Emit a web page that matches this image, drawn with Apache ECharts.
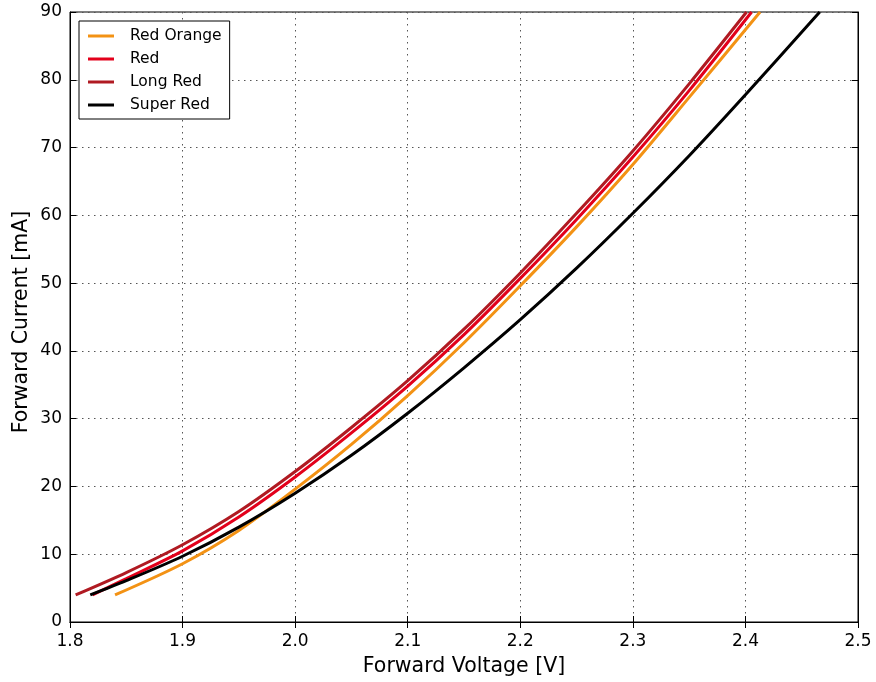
<!DOCTYPE html>
<html>
<head>
<meta charset="utf-8">
<script src="https://cdn.jsdelivr.net/npm/echarts@6/dist/echarts.min.js"></script>
<style>html,body{margin:0;padding:0;background:#fff;}#c{width:876px;height:682px;}</style>
</head>
<body>
<div id="c"></div>
<script>
const seriesNames = ['Red Orange', 'Red', 'Long Red', 'Super Red'];
const seriesColors = ['#F39214', '#E3001B', '#B01A22', '#000000'];
const redOrange = [[1.84,4],[1.9,8.6],[1.95,13.5],[2.0,19.6],[2.05,26.2],[2.1,33.4],[2.15,41.2],[2.2,49.6],[2.25,58.3],[2.3,67.5],[2.35,77.4],[2.413,90]];
const red = [[1.82,4],[1.85,6.4],[1.9,10.5],[1.95,15.5],[2.0,21.4],[2.05,27.9],[2.1,34.8],[2.15,42.4],[2.2,50.7],[2.25,59.4],[2.3,68.6],[2.35,78.4],[2.4055,90]];
const longRed = [[1.805,4],[1.85,7.3],[1.9,11.4],[1.95,16.3],[2.0,22.2],[2.05,28.7],[2.1,35.6],[2.15,43.2],[2.2,51.5],[2.25,60.3],[2.3,69.5],[2.35,79.4],[2.401,90]];
const superRed = [[1.818,4],[1.85,6.1],[1.9,9.7],[1.95,14.0],[2.0,19.0],[2.05,24.6],[2.1,30.8],[2.15,37.5],[2.2,44.6],[2.25,52.2],[2.3,60.3],[2.35,68.8],[2.4,77.8],[2.466,90]];
const xTicks = ['1.8','1.9','2.0','2.1','2.2','2.3','2.4','2.5'];
const yTitle = 'Forward Current [mA]';
const allData = [redOrange, red, longRed, superRed];

const font = 'DejaVu Sans';
const chart = echarts.init(document.getElementById('c'), null, {renderer: 'canvas'});
const tickStyle = {show: true, inside: true, length: 6, lineStyle: {color: '#000', width: 1}};
const gridLine = {show: true, lineStyle: {color: '#555', type: [1.5, 4.5], width: 1}};
chart.setOption({
  animation: false,
  backgroundColor: '#fff',
  grid: {left: 70, right: 18, top: 12, bottom: 60, show: true, borderColor: '#000', borderWidth: 1, backgroundColor: 'transparent'},
  graphic: [{
    type: 'text', x: 22, y: 322, rotation: Math.PI / 2,
    style: {text: yTitle, fontFamily: font, fontSize: 20.5, fill: '#000', align: 'center', verticalAlign: 'middle'}
  }],
  legend: {
    orient: 'vertical', left: 79, top: 21,
    data: seriesNames,
    icon: 'rect', itemWidth: 26, itemHeight: 3, itemGap: 7,
    padding: [7, 8, 6, 9],
    borderColor: '#000', borderWidth: 1, borderRadius: 0, backgroundColor: '#fff',
    textStyle: {fontFamily: font, fontSize: 15.5, color: '#000', lineHeight: 16, padding: [0, 0, 0, 11]}
  },
  xAxis: [{
    type: 'value', min: 1.8, max: 2.5, interval: 0.1,
    name: 'Forward Voltage [V]', nameLocation: 'middle', nameGap: 34,
    nameTextStyle: {fontFamily: font, fontSize: 20.5, color: '#000'},
    axisLine: {show: true, lineStyle: {color: '#000', width: 1}},
    axisTick: tickStyle,
    axisLabel: {fontFamily: font, fontSize: 17, color: '#000', margin: 11,
      formatter: function (v) { return xTicks[Math.round((v - 1.8) * 10)]; }},
    splitLine: gridLine
  }, {
    type: 'value', min: 1.8, max: 2.5, interval: 0.1, position: 'top',
    axisLine: {show: true, lineStyle: {color: '#000'}}, axisTick: tickStyle,
    axisLabel: {show: false}, splitLine: {show: false}
  }],
  yAxis: [{
    type: 'value', min: 0, max: 90, interval: 10,
    axisLine: {show: true, lineStyle: {color: '#000', width: 1}},
    axisTick: tickStyle,
    axisLabel: {fontFamily: font, fontSize: 17, color: '#000', margin: 8},
    splitLine: gridLine
  }, {
    type: 'value', min: 0, max: 90, interval: 10, position: 'right',
    axisLine: {show: true, lineStyle: {color: '#000'}}, axisTick: tickStyle,
    axisLabel: {show: false}, splitLine: {show: false}
  }],
  series: seriesNames.map(function (n, i) {
    return {
      name: n, type: 'line', data: allData[i], smooth: 0.3,
      showSymbol: false, symbol: 'none', clip: true,
      itemStyle: {color: seriesColors[i]},
      lineStyle: {color: seriesColors[i], width: 3}
    };
  })
});
</script>
</body>
</html>
